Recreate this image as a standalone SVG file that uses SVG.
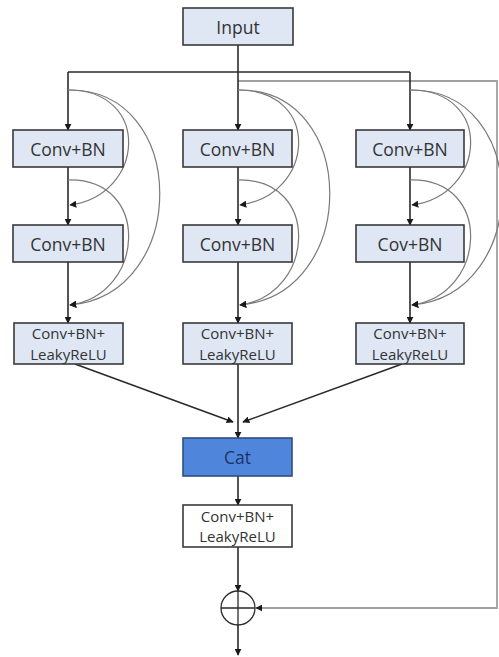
<svg xmlns="http://www.w3.org/2000/svg" width="499" height="657" viewBox="0 0 499 657">
<defs>
<marker id="ah" viewBox="0 0 10 10" refX="9" refY="5" markerWidth="7" markerHeight="7" markerUnits="userSpaceOnUse" orient="auto">
<path d="M0,0 L10,5 L0,10 Z" fill="#1a1a1a"/>
</marker>
<style>
.box{fill:#dfe7f5;stroke:#3a3a3a;stroke-width:1.6}
.wbox{fill:#ffffff;stroke:#3a3a3a;stroke-width:1.6}
.cat{fill:#4f86dc;stroke:#2f4f80;stroke-width:1.6}
.t{font-family:"Open Sans","DejaVu Sans",sans-serif;font-size:17.5px;fill:#333;text-anchor:middle;dominant-baseline:central}
.s{font-family:"Open Sans","DejaVu Sans",sans-serif;font-size:15px;fill:#333;text-anchor:middle;dominant-baseline:central}
.ln{fill:none;stroke:#2a2a2a;stroke-width:1.6}
.arc{fill:none;stroke:#7a7a7a;stroke-width:1.2}
.res{fill:none;stroke:#a0a0a0;stroke-width:1.8}
</style>
</defs>

<g id="connectors">
<path class="ln" d="M238,45 V72"/>
<path class="ln" d="M68,72 H410"/>
<path class="res" d="M238,81 H497 V608 H256" marker-end="url(#ah)"/>
<path class="ln" d="M68,72 V130" marker-end="url(#ah)"/>
<path class="ln" d="M68,167 V225" marker-end="url(#ah)"/>
<path class="ln" d="M68,262 V323" marker-end="url(#ah)"/>
<path class="ln" d="M238,72 V130" marker-end="url(#ah)"/>
<path class="ln" d="M238,167 V225" marker-end="url(#ah)"/>
<path class="ln" d="M238,262 V323" marker-end="url(#ah)"/>
<path class="ln" d="M410,72 V130" marker-end="url(#ah)"/>
<path class="ln" d="M410,167 V225" marker-end="url(#ah)"/>
<path class="ln" d="M410,262 V323" marker-end="url(#ah)"/>
<path class="arc" d="M68,90 C152,90 145,195 70,205" marker-end="url(#ah)"/>
<path class="arc" d="M68,90 C190,88 190,295 70,305" marker-end="url(#ah)"/>
<path class="arc" d="M68,180 C152,178 145,295 70,305" marker-end="url(#ah)"/>
<path class="arc" d="M238,90 C322,90 315,195 240,205" marker-end="url(#ah)"/>
<path class="arc" d="M238,90 C360,88 360,295 240,305" marker-end="url(#ah)"/>
<path class="arc" d="M238,180 C322,178 315,295 240,305" marker-end="url(#ah)"/>
<path class="arc" d="M410,90 C494,90 487,195 412,205" marker-end="url(#ah)"/>
<path class="arc" d="M410,90 C532,88 532,295 412,305" marker-end="url(#ah)"/>
<path class="arc" d="M410,180 C494,178 487,295 412,305" marker-end="url(#ah)"/>
<path class="ln" d="M75,364 L233,422" marker-end="url(#ah)"/>
<path class="ln" d="M402,364 L243,422" marker-end="url(#ah)"/>
<path class="ln" d="M238,364 V438" marker-end="url(#ah)"/>
<path class="ln" d="M238,476 V505" marker-end="url(#ah)"/>
<path class="ln" d="M238,547 V591" marker-end="url(#ah)"/>
<path class="ln" d="M238,591 V655" marker-end="url(#ah)"/>
</g>

<g id="input"><rect class="box" x="183" y="8" width="110" height="37"/><text class="t" x="238" y="26.5">Input</text></g>

<g id="c1a"><rect class="box" x="13" y="130" width="110" height="37"/><text class="t" x="68" y="148.5">Conv+BN</text></g>
<g id="c2a"><rect class="box" x="183" y="130" width="109" height="37"/><text class="t" x="237.5" y="148.5">Conv+BN</text></g>
<g id="c3a"><rect class="box" x="356" y="130" width="108" height="37"/><text class="t" x="410" y="148.5">Conv+BN</text></g>

<g id="c1b"><rect class="box" x="13" y="225" width="110" height="37"/><text class="t" x="68" y="243.5">Conv+BN</text></g>
<g id="c2b"><rect class="box" x="183" y="225" width="109" height="37"/><text class="t" x="237.5" y="243.5">Conv+BN</text></g>
<g id="c3b"><rect class="box" x="356" y="225" width="108" height="37"/><text class="t" x="410" y="243.5">Cov+BN</text></g>

<g id="c1c"><rect class="box" x="14" y="323" width="109" height="41"/><text class="s" x="68.5" y="333">Conv+BN+</text><text class="s" x="68.5" y="354">LeakyReLU</text></g>
<g id="c2c"><rect class="box" x="183" y="323" width="109" height="41"/><text class="s" x="237.5" y="333">Conv+BN+</text><text class="s" x="237.5" y="354">LeakyReLU</text></g>
<g id="c3c"><rect class="box" x="356" y="323" width="108" height="41"/><text class="s" x="410" y="333">Conv+BN+</text><text class="s" x="410" y="354">LeakyReLU</text></g>

<g id="cat"><rect class="cat" x="183" y="438" width="109" height="38"/><text class="t" x="237.5" y="457" style="fill:#1a3568">Cat</text></g>

<g id="final"><rect class="wbox" x="183" y="505" width="109" height="42"/><text class="s" x="237.5" y="516">Conv+BN+</text><text class="s" x="237.5" y="536">LeakyReLU</text></g>

<g id="add"><circle cx="238" cy="608" r="17" fill="#fff" stroke="#2a2a2a" stroke-width="1.3"/><path d="M221,608 H255 M238,591 V625" stroke="#2a2a2a" stroke-width="1.3"/></g>
</svg>
